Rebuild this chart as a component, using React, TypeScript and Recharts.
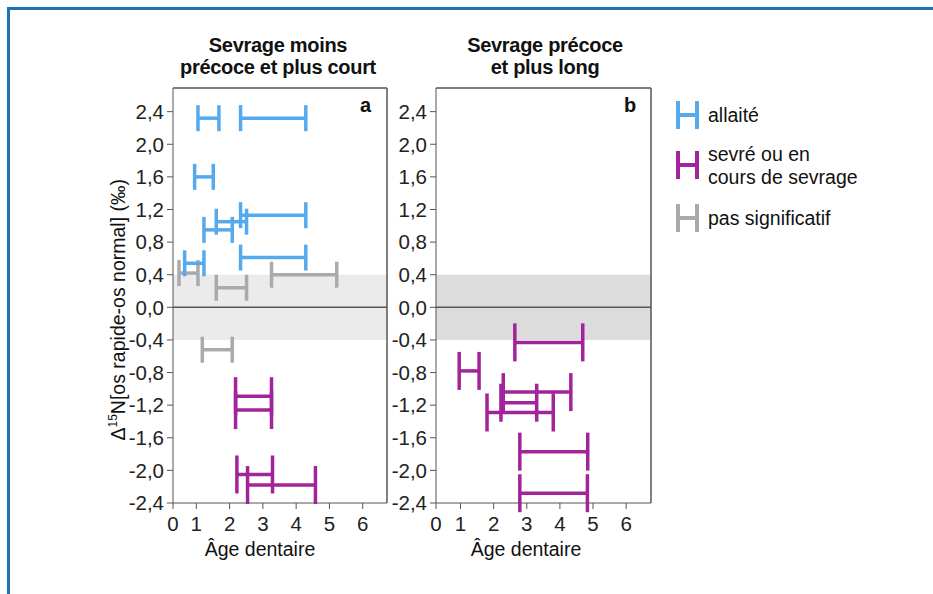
import React from 'react';
import {
  ScatterChart, Scatter, ErrorBar, XAxis, YAxis, ReferenceArea, ReferenceLine,
} from 'recharts';

// intervals d'âge dentaire (lo-hi) par écart Δ15N
const allaiteA = [
  { lo: 1.05, hi: 1.68, y: 2.32 },
  { lo: 2.33, hi: 4.29, y: 2.32 },
  { lo: 0.95, hi: 1.51, y: 1.60 },
  { lo: 2.33, hi: 4.29, y: 1.13 },
  { lo: 1.60, hi: 2.51, y: 1.05 },
  { lo: 1.23, hi: 2.08, y: 0.95 },
  { lo: 2.33, hi: 4.29, y: 0.61 },
  { lo: 0.65, hi: 1.23, y: 0.54 },
];
const nsA = [
  { lo: 0.48, hi: 1.05, y: 0.42 },
  { lo: 3.26, hi: 5.22, y: 0.40 },
  { lo: 1.60, hi: 2.51, y: 0.24 },
  { lo: 1.18, hi: 2.08, y: -0.52 },
];
const sevreA = [
  { lo: 2.18, hi: 3.26, y: -1.09 },
  { lo: 2.18, hi: 3.26, y: -1.26 },
  { lo: 2.22, hi: 3.29, y: -2.05 },
  { lo: 2.54, hi: 4.58, y: -2.18 },
];
const sevreB = [
  { lo: 2.64, hi: 4.69, y: -0.43 },
  { lo: 0.96, hi: 1.56, y: -0.78 },
  { lo: 2.29, hi: 4.33, y: -1.04 },
  { lo: 2.22, hi: 3.30, y: -1.17 },
  { lo: 1.80, hi: 3.80, y: -1.29 },
  { lo: 2.79, hi: 4.84, y: -1.77 },
  { lo: 2.79, hi: 4.83, y: -2.28 },
];

const yTicks = [-2.4, -2.0, -1.6, -1.2, -0.8, -0.4, 0, 0.4, 0.8, 1.2, 1.6, 2.0, 2.4];
const xTicksA = [0.3, 1, 2, 3, 4, 5, 6];
const xTicksB = [0.26, 1, 2, 3, 4, 5, 6];

const titles = [['Sevrage moins', 'précoce et plus court'], ['Sevrage précoce', 'et plus long']];
const legendItems = [
  { lines: ['allaité'], color: '#55aaee' },
  { lines: ['sevré ou en', 'cours de sevrage'], color: '#a3239b' },
  { lines: ['pas significatif'], color: '#aaaaaa' },
];

const BLUE = '#55aaee';
const PURPLE = '#a3239b';
const GREY = '#aaaaaa';
const AXIS = '#555';
const FONT = '"Liberation Sans", Arial, sans-serif';

const toPts = (rows: { lo: number; hi: number; y: number }[]) =>
  rows.map(r => ({ x: (r.lo + r.hi) / 2, y: r.y, err: (r.hi - r.lo) / 2 }));

const fmtY = (v: number) => (Math.abs(v) < 1e-9 ? '0,0' : v.toFixed(1).replace('.', ','));
const fmtX = (v: number) => (v < 0.9 ? '0' : String(v));
const noDot = () => <g />;

interface Series { rows: { lo: number; hi: number; y: number }[]; color: string; cap: number }

function Panel({ series, xDomain, xTicks, band, left, width, mLeft, mRight }: {
  series: Series[]; xDomain: [number, number]; xTicks: number[]; band: string;
  left: number; width: number; mLeft: number; mRight: number;
}) {
  return (
    <div style={{ position: 'absolute', left, top: 0 }}>
      <ScatterChart width={width} height={594} margin={{ top: 88, right: mRight, bottom: 61, left: mLeft }}>
        <XAxis
          type="number" dataKey="x" domain={xDomain} ticks={xTicks} allowDataOverflow
          tickFormatter={fmtX} height={30} tickSize={6} tickMargin={7}
          stroke={AXIS} tick={{ fill: '#222', fontSize: 20.5, fontFamily: FONT }}
        />
        <YAxis
          type="number" dataKey="y" domain={[-2.4, 2.69]} ticks={yTicks} allowDataOverflow
          tickFormatter={fmtY} width={50} tickSize={6} tickMargin={3}
          stroke={AXIS} tick={{ fill: '#222', fontSize: 20.5, fontFamily: FONT }}
        />
        <ReferenceArea y1={-0.4} y2={0.4} fill={band} fillOpacity={1} stroke="none" />
        <ReferenceLine y={0} stroke={AXIS} strokeWidth={1.5} />
        <ReferenceLine y={2.69} stroke={AXIS} strokeWidth={1.5} ifOverflow="visible" />
        <ReferenceLine x={xDomain[1]} stroke={AXIS} strokeWidth={1.5} ifOverflow="visible" />
        {series.map((s, i) => (
          <Scatter key={i} data={toPts(s.rows)} shape={noDot} isAnimationActive={false}>
            <ErrorBar dataKey="err" direction="x" width={s.cap} stroke={s.color} strokeWidth={3.5} isAnimationActive={false} />
          </Scatter>
        ))}
      </ScatterChart>
    </div>
  );
}

const txt: React.CSSProperties = { position: 'absolute', fontFamily: FONT, color: '#111', whiteSpace: 'nowrap' };

export default function App() {
  return (
    <div style={{ position: 'absolute', left: 0, top: 0, width: 933, height: 594, background: '#fff', overflow: 'hidden' }}>
      <div style={{ position: 'absolute', left: 7, top: 7, width: 926, height: 3, background: '#1b74b8' }} />
      <div style={{ position: 'absolute', left: 7, top: 7, width: 3, height: 587, background: '#1b74b8' }} />

      <Panel
        series={[{ rows: nsA, color: GREY, cap: 13 }, { rows: allaiteA, color: BLUE, cap: 13 }, { rows: sevreA, color: PURPLE, cap: 19 }]}
        xDomain={[0.3, 6.73]} xTicks={xTicksA} band="#ebebeb" left={0} width={400} mLeft={123} mRight={13}
      />
      <Panel
        series={[{ rows: sevreB, color: PURPLE, cap: 19 }]}
        xDomain={[0.26, 6.75]} xTicks={xTicksB} band="#dcdcdc" left={380} width={280} mLeft={6} mRight={9}
      />

      {titles.map((t, i) => (
        <div key={i} style={{ ...txt, left: i === 0 ? 128 : 395, top: 34, width: 300, textAlign: 'center', fontWeight: 'bold', fontSize: 20, lineHeight: '22px', letterSpacing: -0.3 }}>
          {t[0]}<br />{t[1]}
        </div>
      ))}
      <div style={{ ...txt, left: 360, top: 94, fontWeight: 'bold', fontSize: 20 }}>a</div>
      <div style={{ ...txt, left: 624, top: 94, fontWeight: 'bold', fontSize: 20 }}>b</div>

      <div style={{ ...txt, left: 160, top: 538, width: 200, textAlign: 'center', fontSize: 19.5 }}>Âge dentaire</div>
      <div style={{ ...txt, left: 426, top: 538, width: 200, textAlign: 'center', fontSize: 19.5 }}>Âge dentaire</div>
      <div style={{ ...txt, left: -32, top: 298, width: 300, textAlign: 'center', fontSize: 19.5, transform: 'rotate(-90deg)' }}>
        Δ<sup style={{ fontSize: 12 }}>15</sup>N[os rapide-os normal] (‰)
      </div>

      <svg style={{ position: 'absolute', left: 660, top: 90 }} width={240} height={160}>
        {legendItems.map((it, i) => {
          const cy = [25, 75, 128][i];
          return (
            <g key={i}>
              <line x1={18} x2={18} y1={cy - 14} y2={cy + 14} stroke={it.color} strokeWidth={4} />
              <line x1={37} x2={37} y1={cy - 14} y2={cy + 14} stroke={it.color} strokeWidth={4} />
              <line x1={18} x2={37} y1={cy} y2={cy} stroke={it.color} strokeWidth={4} />
              {it.lines.map((l, j) => (
                <text key={j} x={48} y={cy + 7 - (it.lines.length - 1) * 11.5 + j * 23} fontSize={19.5} fontFamily={FONT} fill="#111">{l}</text>
              ))}
            </g>
          );
        })}
      </svg>
    </div>
  );
}
